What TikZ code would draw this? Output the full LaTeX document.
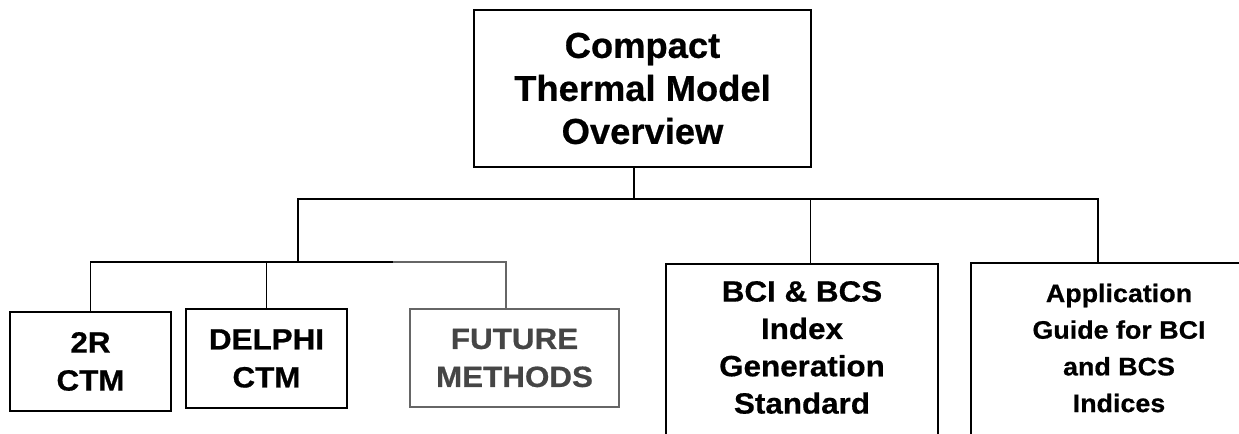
\documentclass[tikz,border=0pt]{standalone}
\usepackage{fontspec}
\setmainfont{Liberation Sans}
\newfontfamily\boxfont[FakeStretch=1.07,FakeBold=0.6]{Liberation Sans}
\newfontfamily\appfont[FakeStretch=1.06,FakeBold=0.6]{Liberation Sans}
\newfontfamily\topfont[FakeStretch=1.01,FakeBold=0.6]{Liberation Sans}
\definecolor{grayline}{HTML}{666666}
\definecolor{graytext}{HTML}{454545}
\begin{document}
\begin{tikzpicture}[x=0.75pt,y=-0.75pt,
  box/.style={draw=black,line width=1.5pt,inner sep=0pt,align=center,
    font=\boxfont\bfseries\fontsize{22pt}{28.5pt}\selectfont},
  graybox/.style={box,draw=grayline,line width=0.9pt,text=graytext},
  topbox/.style={box,line width=1.7pt,
    font=\topfont\bfseries\fontsize{27pt}{32.25pt}\selectfont},
  txt/.style={inner sep=0pt,align=center,
    font=\boxfont\bfseries\fontsize{22pt}{28pt}\selectfont},
  conn/.style={draw=black,line width=1.1pt},
  grayconn/.style={draw=grayline,line width=1pt}]
\useasboundingbox (0,0) rectangle (1239,434);
\clip (0,0) rectangle (1239,434);
% boxes
\node[topbox,minimum width=252.75pt,minimum height=117.75pt] (top) at (642.5,88.5)
  {Compact\\Thermal Model\\Overview};
\node[box,minimum width=120.75pt,minimum height=74.25pt] (r2) at (90.5,361.5) {2R\\CTM};
\node[box,minimum width=120.75pt,minimum height=74.25pt] (delphi) at (266.5,358.5) {DELPHI\\CTM};
\node[graybox,minimum width=156.75pt,minimum height=73.5pt] (future) at (514.5,358) {FUTURE\\METHODS};
\node[box,minimum width=204pt,minimum height=147pt] (bci) at (802,362) {};
\node[txt] (bcitext) at (802,347.5) {BCI \& BCS\\Index\\Generation\\Standard};
\node[box,minimum width=222pt,minimum height=147.75pt] (app) at (1119,361.5) {};
\node[txt,font=\appfont\bfseries\fontsize{19pt}{27.5pt}\selectfont] (apptext) at (1119,348)
  {Application\\Guide for BCI\\and BCS\\Indices};
% junctions
\coordinate (j0) at (634,199);
\coordinate (jL) at (298,262);
\coordinate (jb) at (810.5,199);
\coordinate (jr) at (1098,199);
\coordinate (jg) at (393,262);
\coordinate (jf) at (506,262);
% connectors
\draw[conn] (top.south -| j0) -- (j0);
\draw[conn] (jL) |- (jr) -- (jr |- app.north);
\draw[conn] (jb) -- (jb |- bci.north);
\draw[conn] (r2.north) |- (jg);
\draw[conn] (delphi.north) -- (delphi.north |- jL);
\draw[grayconn] (jg) -- (jf) -- (jf |- future.north);
\end{tikzpicture}
\end{document}
